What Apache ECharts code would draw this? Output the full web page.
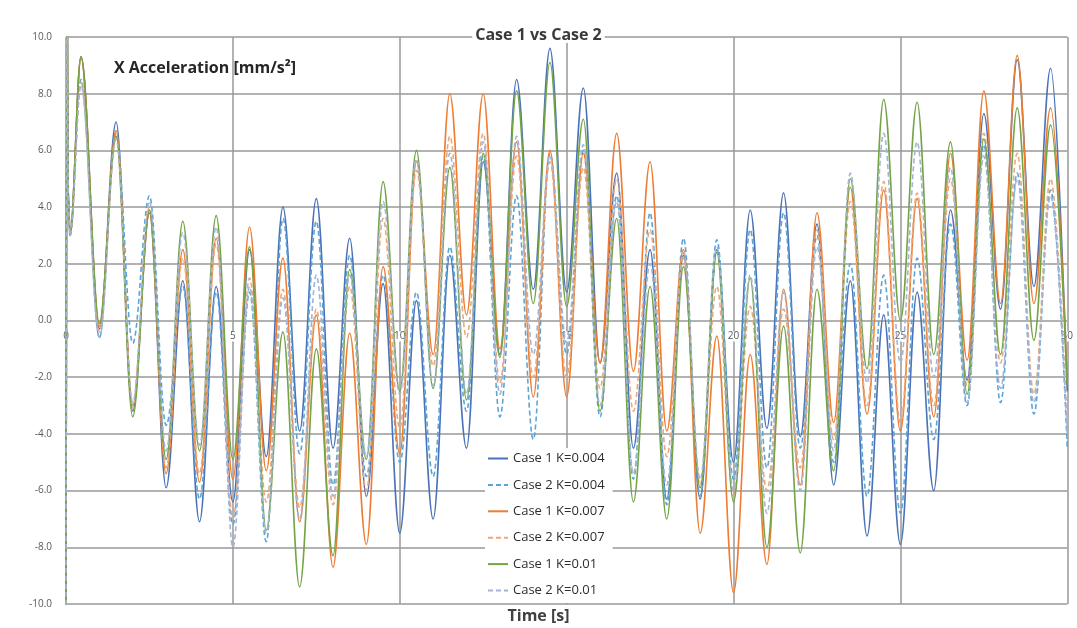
<!DOCTYPE html>
<html>
<head>
<meta charset="utf-8">
<script src="https://cdn.jsdelivr.net/npm/echarts@6/dist/echarts.min.js"></script>
<style>
  html, body { margin: 0; padding: 0; background: #ffffff; }
  #chart { width: 1077px; height: 628px; }
</style>
</head>
<body>
<div id="chart"></div>
<script>
// Sample instants [s]: start-up transient, then the peaks and troughs of each cycle
const times = [0, 0.03, 0.07, 0.12, 0.45,
  1, 1.5, 2, 2.5, 3, 3.5, 4, 4.5, 5, 5.5, 6, 6.5, 7, 7.5, 8, 8.5, 9, 9.5, 10,
  10.5, 11, 11.5, 12, 12.5, 13, 13.5, 14, 14.5, 15, 15.5, 16, 16.5, 17, 17.5, 18, 18.5, 19, 19.5, 20,
  20.5, 21, 21.5, 22, 22.5, 23, 23.5, 24, 24.5, 25, 25.5, 26, 26.5, 27, 27.5, 28, 28.5, 29, 29.5, 30];

// X acceleration [mm/s^2]
const case1K004 = [-12, 12, 4.3, 3.0, 9.3,
  -0.3, 7.0, -3.2, 3.8, -5.9, 1.4, -7.1, 1.2, -6.4, 2.5, -4.8, 4.0, -3.9, 4.3, -4.5, 2.9, -6.2, 1.3, -7.5,
  0.7, -7.0, 2.3, -4.5, 5.6, -1.2, 8.5, 1.1, 9.6, 1.0, 8.2, -1.5, 5.2, -4.5, 2.5, -6.3, 2.3, -6.3, 2.5, -5.0,
  3.9, -3.8, 4.5, -4.1, 3.4, -5.8, 1.4, -7.6, 0.2, -7.9, 1.0, -6.0, 3.9, -2.1, 7.3, 0.4, 9.2, 1.2, 8.9, -2.5];

const case2K004 = [-12, 12, 4.3, 3.0, 8.5,
  -0.6, 6.6, -0.8, 4.4, -3.7, 1.2, -6.3, 1.0, -7.2, 1.0, -7.8, 3.6, -4.7, 3.5, -5.8, 2.3, -5.5, 1.6, -5.0,
  1.0, -5.5, 2.6, -3.2, 5.8, -3.4, 4.4, -4.2, 5.9, -1.2, 6.0, -3.4, 4.4, -5.6, 3.8, -6.5, 2.9, -6.2, 2.85, -5.6,
  3.2, -5.2, 3.8, -4.5, 3.0, -5.0, 2.0, -6.2, 1.6, -6.8, 2.2, -4.2, 3.4, -3.0, 6.2, -2.9, 5.2, -3.3, 4.6, -4.5];

const case1K007 = [-12, 12, 4.3, 3.0, 9.3,
  -0.2, 6.7, -3.0, 3.8, -5.4, 2.5, -5.7, 2.9, -5.6, 3.3, -5.3, 2.2, -7.1, 0.2, -8.7, -0.45, -7.9, 1.9, -4.7,
  5.6, -1.2, 8.0, 0.2, 8.0, -1.0, 6.3, -2.7, 6.0, -2.7, 5.9, -1.5, 6.6, -1.8, 5.6, -3.9, 2.5, -7.5, -0.55, -9.6,
  -1.2, -8.6, 1.1, -5.8, 3.8, -3.6, 4.7, -3.3, 4.6, -3.9, 4.3, -3.4, 5.9, -1.4, 8.1, 0.6, 9.35, 0.6, 7.5, -2.2];

const case2K007 = [-12, 12, 4.3, 3.0, 8.4,
  -0.4, 6.5, -3.1, 4.0, -5.2, 2.2, -5.4, 2.7, -7.0, 1.5, -6.4, 1.1, -6.6, 0.4, -6.5, 1.2, -6.0, 3.6, -3.8,
  5.3, -1.6, 6.5, -0.6, 6.6, -2.2, 5.8, -2.0, 5.6, -2.0, 5.4, -2.4, 5.0, -3.2, 3.2, -4.8, 2.2, -5.8, 1.2, -6.2,
  0.5, -6.0, 0.4, -5.2, 3.2, -4.2, 4.2, -3.0, 4.9, -3.6, 4.5, -3.0, 5.0, -2.3, 6.6, -1.5, 5.9, -2.6, 5.0, -3.8];

const case1K01 = [-12, 12, 4.6, 3.0, 9.3,
  -0.1, 6.5, -3.4, 3.9, -4.9, 3.5, -4.6, 3.7, -4.9, 2.6, -7.4, -0.4, -9.4, -1.0, -8.3, 1.8, -4.9, 4.9, -2.5,
  6.0, -2.4, 5.4, -2.8, 5.9, -1.3, 8.1, 0.6, 9.1, 0.5, 7.1, -3.2, 3.6, -6.4, 1.2, -7.0, 1.9, -5.9, 2.4, -6.4,
  1.5, -8.0, -0.2, -8.2, 1.1, -5.3, 5.0, -1.7, 7.8, 0.0, 7.7, -1.2, 6.3, -2.6, 6.4, -1.2, 7.5, -0.7, 6.9, -2.3];

const case2K01 = [-12, 12, 4.3, 3.0, 8.3,
  -0.6, 6.4, -2.9, 4.2, -4.6, 3.1, -4.4, 3.3, -8.0, 1.2, -7.5, 0.8, -7.0, 1.6, -6.2, 1.6, -4.8, 4.2, -2.6,
  5.7, -2.3, 5.9, -2.6, 6.3, -2.6, 6.5, -1.2, 5.8, -0.8, 6.2, -3.0, 4.2, -5.4, 2.0, -5.8, 2.4, -5.6, 2.6, -6.0,
  1.6, -6.8, 1.0, -6.0, 2.6, -4.6, 5.2, -2.2, 6.6, -1.5, 6.3, -2.0, 5.4, -2.9, 5.8, -2.4, 5.0, -2.9, 4.4, -4.1];

const seriesNames = ['Case 1 K=0.004', 'Case 2 K=0.004', 'Case 1 K=0.007',
                     'Case 2 K=0.007', 'Case 1 K=0.01', 'Case 2 K=0.01'];
const seriesValues = [case1K004, case2K004, case1K007, case2K007, case1K01, case2K01];
const seriesColors = ['#4a72b8', '#5aa5d8', '#ec7d33', '#eaa97c', '#74a446', '#a4b4d4'];
const seriesDashed = [false, true, false, true, false, true];

const xTicks = { min: 0, max: 30, step: 5 };
const yTicks = { min: -10, max: 10, step: 2 };

const font = '"Open Sans", Lato, "Liberation Sans", sans-serif';

const chart = echarts.init(document.getElementById('chart'), null, { renderer: 'canvas' });

const series = seriesNames.map((name, i) => ({
  name: name,
  type: 'line',
  data: times.map((t, j) => [t, seriesValues[i][j]]),
  symbol: 'none',
  smooth: 0.36,
  smoothMonotone: 'x',
  clip: true,
  lineStyle: {
    color: seriesColors[i],
    width: 1.6,
    type: seriesDashed[i] ? [5, 3] : 'solid'
  },
  itemStyle: { color: seriesColors[i] },
  z: 2 + i
}));

// plot height spans 20 units; the time axis sits on the zero line
const plotTop = 37, plotBottom = 24, plotHeight = 628 - plotTop - plotBottom;
const zeroOffset = -plotHeight * (0 - yTicks.min) / (yTicks.max - yTicks.min);

chart.setOption({
  animation: false,
  backgroundColor: '#ffffff',
  title: [
    {
      text: 'Case 1 vs Case 2',
      left: 'center',
      top: 27,
      padding: [0, 3, 0, 3],
      backgroundColor: '#ffffff',
      textStyle: { fontFamily: font, fontSize: 16, fontWeight: 'bold', color: '#3a3a3a' }
    },
    {
      text: 'X Acceleration [mm/s²]',
      left: 114,
      top: 60,
      padding: 0,
      textStyle: { fontFamily: font, fontSize: 16, fontWeight: 'bold', color: '#262626' }
    },
    {
      text: 'Time [s]',
      left: 'center',
      top: 608,
      padding: 0,
      textStyle: { fontFamily: font, fontSize: 16, fontWeight: 'bold', color: '#404040' }
    }
  ],
  grid: { left: 66, right: 3, top: plotTop, bottom: plotBottom, containLabel: false },
  legend: {
    orient: 'vertical',
    left: 485,
    top: 448,
    backgroundColor: '#ffffff',
    padding: [4, 8, 6, 2],
    itemWidth: 20,
    itemHeight: 12,
    itemGap: 13.4,
    itemStyle: { opacity: 0 },
    textStyle: { fontFamily: font, fontSize: 13, color: '#2e2e2e' },
    data: seriesNames
  },
  xAxis: {
    type: 'value',
    min: xTicks.min,
    max: xTicks.max,
    interval: xTicks.step,
    position: 'bottom',
    offset: zeroOffset,
    axisLine: { show: false, onZero: false },
    axisTick: { show: false },
    axisLabel: {
      fontFamily: font,
      fontSize: 10,
      color: '#595959',
      margin: 11,
      backgroundColor: '#ffffff',
      padding: [0, 1, 0, 1]
    },
    splitLine: { show: true, lineStyle: { color: '#999999', width: 1.5 } }
  },
  yAxis: {
    type: 'value',
    min: yTicks.min,
    max: yTicks.max,
    interval: yTicks.step,
    axisLine: { show: false },
    axisTick: { show: false },
    axisLabel: {
      fontFamily: font,
      fontSize: 10,
      color: '#595959',
      margin: 14,
      formatter: v => v.toFixed(1)
    },
    splitLine: { show: true, lineStyle: { color: '#999999', width: 1.5 } }
  },
  series: series
});
</script>
</body>
</html>
